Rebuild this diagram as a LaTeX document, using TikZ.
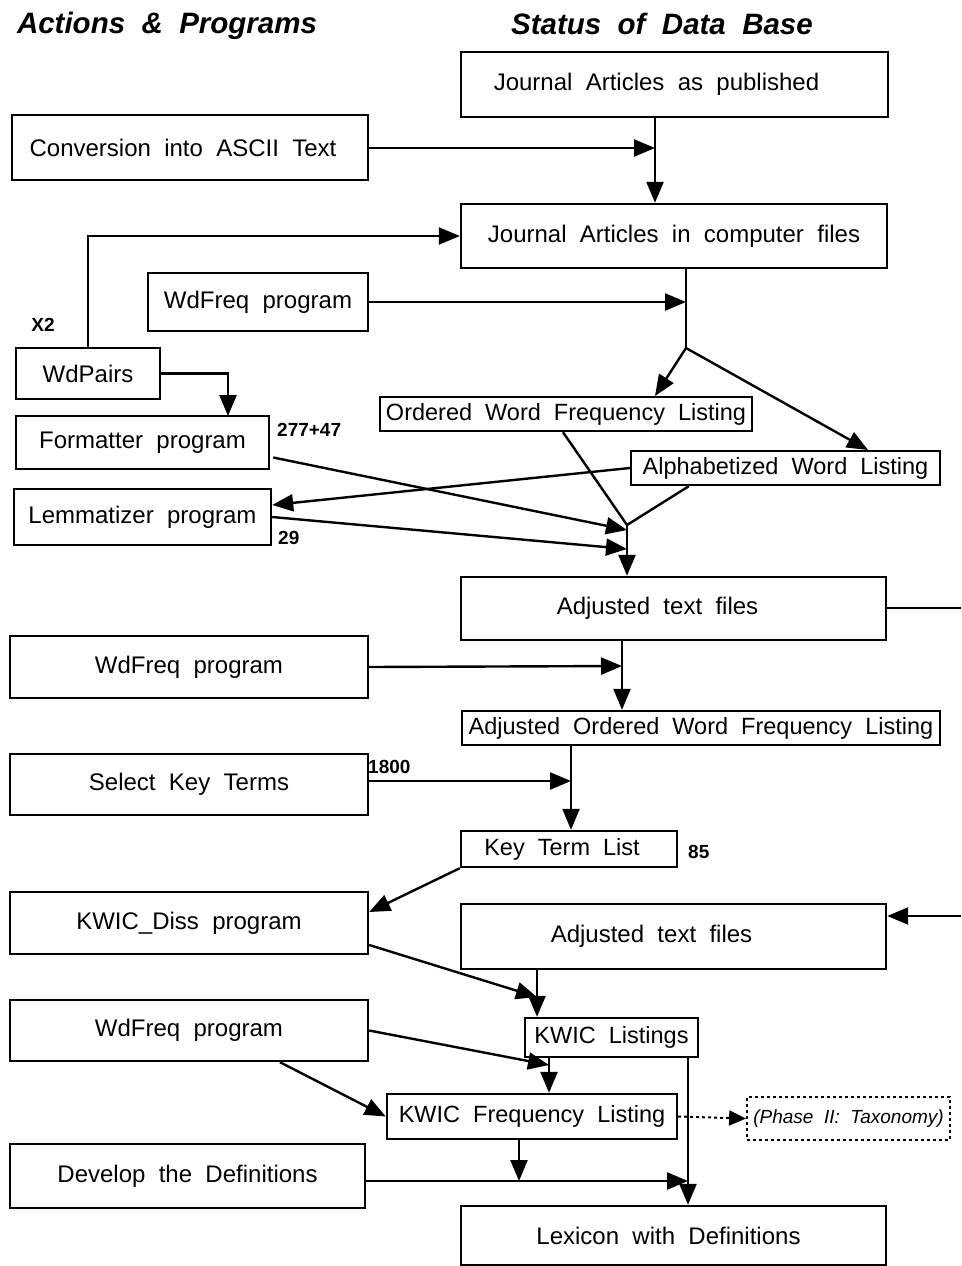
\documentclass[tikz,border=0pt]{standalone}
\usepackage{fontspec}
\setmainfont{Liberation Sans}[WordSpace=2]
\usetikzlibrary{arrows.meta,calc}
\begin{document}
\begin{tikzpicture}[x=1pt,y=-1pt,
  box/.style={draw,line width=2.4pt,inner sep=0pt,
    font=\fontsize{24}{26}\selectfont},
  thinbox/.style={box,font=\fontsize{23.5}{25}\selectfont},
  flow/.style={line width=2.4pt,-{Triangle[length=21pt,width=17pt]}},
  line/.style={line width=2.4pt},
  note/.style={font=\bfseries\fontsize{19}{21}\selectfont,inner sep=0pt},
  heading/.style={font=\bfseries\itshape\fontsize{29.5}{31}\selectfont,inner sep=0pt}]
\useasboundingbox (0,0) rectangle (961,1266);

% column headings
\node[heading] (hA) at (167,26) {Actions \& Programs};
\node[heading] (hS) at (662,24) {Status of Data Base};

% boxes
\node[box,minimum width=427,minimum height=65] (J1) at (674.5,84.5) {Journal Articles as published\hspace*{36pt}};
\node[box,minimum width=356,minimum height=65] (Conv) at (190,147.5) {Conversion into ASCII Text\hspace*{14pt}};
\node[box,minimum width=426,minimum height=64] (J2) at (674,236) {Journal Articles in computer files};
\node[box,minimum width=220,minimum height=58] (WF1) at (258,302) {WdFreq program};
\node[box,minimum width=144,minimum height=51] (WP) at (88,373.5) {WdPairs};
\node[box,minimum width=253,minimum height=53] (Fmt) at (142.5,442.5) {Formatter program};
\node[box,minimum width=257,minimum height=56] (Lem) at (142.5,517) {Lemmatizer program};
\node[thinbox,minimum width=372,minimum height=34] (OWFL) at (566,414) {Ordered Word Frequency Listing};
\node[thinbox,minimum width=309,minimum height=34] (AWL) at (785.5,468) {Alphabetized Word Listing};
\node[box,minimum width=425,minimum height=63] (ATF1) at (673.5,608.5) {Adjusted text files\hspace*{32pt}};
\node[box,minimum width=358,minimum height=62] (WF2) at (189,667) {WdFreq program};
\node[thinbox,minimum width=478,minimum height=34] (AOWFL) at (701,728) {Adjusted Ordered Word Frequency Listing};
\node[box,minimum width=358,minimum height=61] (SKT) at (189,784.5) {Select Key Terms};
\node[thinbox,minimum width=216,minimum height=36] (KTL) at (569,849) {Key Term List\hspace*{14pt}};
\node[box,minimum width=358,minimum height=62] (KD) at (189,923) {KWIC\_Diss program};
\node[box,minimum width=425,minimum height=65] (ATF2) at (673.5,936.5) {Adjusted text files\hspace*{44pt}};
\node[box,minimum width=358,minimum height=61] (WF3) at (189,1030.5) {WdFreq program};
\node[thinbox,minimum width=173,minimum height=39] (KL) at (611.5,1037.5) {KWIC Listings};
\node[thinbox,minimum width=290,minimum height=45] (KFL) at (532,1116.5) {KWIC Frequency Listing};
\node[box,line width=1.8pt,dash pattern=on 3pt off 3pt,minimum width=203,minimum height=43,
  font=\itshape\fontsize{19}{21}\selectfont] (Ph) at (848.5,1118.5) {(Phase II: Taxonomy)};
\node[box,minimum width=355,minimum height=64] (Dev) at (187.5,1176) {Develop the Definitions};
\node[box,minimum width=425,minimum height=59] (Lex) at (673.5,1235.5) {Lexicon with Definitions\hspace*{10pt}};

% small counts
\node[note] (nX) at (43,325) {X2};
\node[note,anchor=west] (n277) at (277,430) {277+47};
\node[note,anchor=west] (n29) at (278,538) {29};
\node[note,anchor=west] (n1800) at (368,767) {1800};
\node[note,anchor=west] (n85) at (688,852) {85};

% junction points
\coordinate (jA) at (655,148);
\coordinate (jB) at (686,302);
\coordinate (jC) at (686,348);
\coordinate (tO) at (655,396);
\coordinate (tA) at (868,450);
\coordinate (tF) at (228,416);
\coordinate (jD) at (627,525);
\coordinate (tD1) at (627,530);
\coordinate (tD2) at (627,549);
\coordinate (jE) at (622,666);
\coordinate (jF) at (571,781);
\coordinate (jG) at (537,997);
\coordinate (jH) at (549,1065);
\coordinate (jI) at (519,1181);
\coordinate (jJ) at (688,1181);
\coordinate (eR1) at (961,608);
\coordinate (eR2) at (961,916);

% connectors
\draw[flow] (J1.south -| jA) -- (J2.north -| jA);
\draw[flow] (Conv.east |- jA) -- (jA);
\draw[flow] (WP.north) |- (J2.west);
\draw[line] (J2.south -| jB) -- (jC);
\draw[flow] (WF1.east) -- (jB);
\draw[flow] (jC) -- (tO);
\draw[flow] (jC) -- (tA);
\draw[flow] (WP.east) -| (tF);
\draw[line] ($(OWFL.south)+(-3,0)$) -- (jD);
\draw[line] ($(AWL.south west)+(59,0)$) -- (jD);
\draw[flow] (jD) -- (ATF1.north -| jD);
\draw[flow] ($(Fmt.east)+(3,15)$) -- (tD1);
\draw[flow] (Lem.east) -- (tD2);
\draw[flow] (AWL.west) -- ($(Lem.east)+(0,-12)$);
\draw[line] (ATF1.east |- eR1) -- (eR1);
\draw[flow] (WF2.east) -- (jE);
\draw[flow] (ATF1.south -| jE) -- (AOWFL.north -| jE);
\draw[flow] (SKT.east |- jF) -- (jF);
\draw[flow] (AOWFL.south -| jF) -- (KTL.north -| jF);
\draw[flow] (KTL.south west) -- ($(KD.east)+(0,-11)$);
\draw[flow] ($(KD.east)+(0,22)$) -- (jG);
\draw[flow] (ATF2.south -| jG) -- (KL.north -| jG);
\draw[flow] (eR2) -- (ATF2.east |- eR2);
\draw[flow] (WF3.east) -- (jH);
\draw[flow] (KL.south -| jH) -- (KFL.north -| jH);
\draw[flow] ($(WF3.south)+(91,0)$) -- (KFL.west);
\draw[line width=2pt,dash pattern=on 3pt off 3pt,-{Triangle[length=17pt,width=15pt]}] (KFL.east) -- (Ph.west);
\draw[flow] (KFL.south -| jI) -- (jI);
\draw[flow] (Dev.east |- jJ) -- (jJ);
\draw[flow] (KL.south -| jJ) -- (Lex.north -| jJ);
\end{tikzpicture}
\end{document}
